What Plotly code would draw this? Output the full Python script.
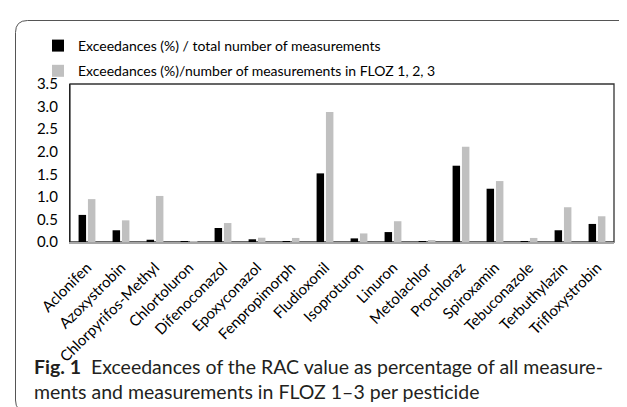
import plotly.graph_objects as go

pesticides = ["Aclonifen", "Azoxystrobin", "Chlorpyrifos-Methyl", "Chlortoluron",
              "Difenoconazol", "Epoxyconazol", "Fenpropimorph", "Fludioxonil",
              "Isoproturon", "Linuron", "Metolachlor", "Prochloraz", "Spiroxamin",
              "Tebuconazole", "Terbuthylazin", "Trifloxystrobin"]
total_pct = [0.60, 0.26, 0.05, 0.015, 0.31, 0.06, 0.02, 1.52,
             0.08, 0.22, 0.015, 1.69, 1.18, 0.02, 0.26, 0.40]
floz_pct = [0.95, 0.48, 1.02, 0.02, 0.42, 0.095, 0.09, 2.88,
            0.19, 0.46, 0.04, 2.11, 1.35, 0.09, 0.77, 0.57]
series_names = ["Exceedances (%) / total number of measurements",
                "Exceedances (%)/number of measurements in FLOZ 1, 2, 3"]
y_ticks = [0.0, 0.5, 1.0, 1.5, 2.0, 2.5, 3.0, 3.5]

W, H = 627, 407
L, R, T, B = 62, 21, 76, 173
pw, ph = W - L - R, H - T - B

def px2paper(x, y):
    return (x - L) / pw, (H - B - y) / ph

fig = go.Figure()
fig.add_trace(go.Bar(x=pesticides, y=total_pct, name=series_names[0],
                     marker=dict(color="#000000", line=dict(width=0)),
                     legendgroup="a"))
fig.add_trace(go.Bar(x=pesticides, y=floz_pct, name=series_names[1],
                     marker=dict(color="#c0c0c0", line=dict(width=0)),
                     legendgroup="b"))

# rounded outer frame
x0, y0 = px2paper(7.5, 12.5)
x1, y1 = px2paper(626.5, 404)
rx, ry = 12 / pw, 12 / ph
path = (f"M {x0+rx},{y0} L {x1-rx},{y0} Q {x1},{y0} {x1},{y0-ry} "
        f"L {x1},{y1+ry} Q {x1},{y1} {x1-rx},{y1} L {x0+rx},{y1} "
        f"Q {x0},{y1} {x0},{y1+ry} L {x0},{y0-ry} Q {x0},{y0} {x0+rx},{y0} Z")

fig.update_layout(
    width=W, height=H,
    margin=dict(l=L, r=R, t=T, b=B, pad=0),
    paper_bgcolor="white", plot_bgcolor="white",
    barmode="group", bargap=0.45, bargroupgap=0.2,
    font=dict(family="Lato, sans-serif", color="#000000"),
    legend=dict(x=px2paper(30, 0)[0], y=px2paper(0, 22)[1], xanchor="left", yanchor="top",
                font=dict(size=14, family="Lato, sans-serif"),
                bgcolor="rgba(0,0,0,0)", tracegroupgap=4, itemwidth=30),
    showlegend=True,
    shapes=[
        dict(type="path", path=path, xref="paper", yref="paper",
             line=dict(color="#555555", width=1), layer="below"),
        dict(type="rect", x0=0, y0=0, x1=1, y1=1, xref="paper", yref="paper",
             line=dict(color="#333333", width=1.3), layer="below"),
    ],
    annotations=[
        dict(text="<b>Fig. 1</b>  Exceedances of the RAC value as percentage of all measure-<br>"
                  "ments and measurements in FLOZ 1–3 per pesticide",
             xref="paper", yref="paper", x=px2paper(24, 0)[0], y=px2paper(0, 345)[1],
             xanchor="left", yanchor="top", align="left", showarrow=False,
             font=dict(size=19.5, family="Lato, sans-serif", color="#231f20")),
    ],
)
fig.update_xaxes(showline=True, linecolor="#a6a6a6", linewidth=2, tickangle=-45,
                 ticks="", showgrid=False, tickfont=dict(size=15),
                 ticklabelstandoff=9, zeroline=False)
fig.update_yaxes(range=[0, 3.5], tickvals=y_ticks, tickformat=".1f",
                 showline=True, linecolor="#222222", linewidth=1.3,
                 ticks="", showgrid=False, zeroline=False,
                 tickfont=dict(size=15), ticklabelstandoff=8)

fig.write_html("out.html")
